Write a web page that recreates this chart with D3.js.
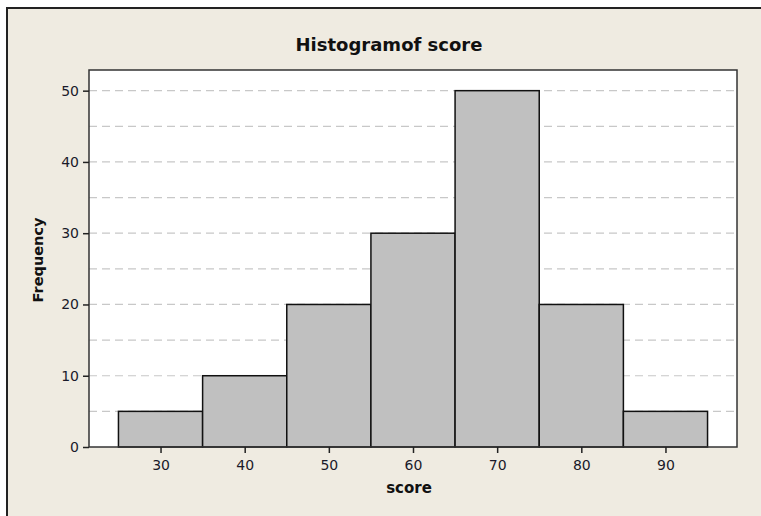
<!DOCTYPE html>
<html>
<head>
<meta charset="utf-8">
<script src="https://cdn.jsdelivr.net/npm/d3@7"></script>
<style>
  body { margin: 0; background: #fff; }
  svg { display: block; }
  .tick text { font-family: Tahoma, "DejaVu Sans", sans-serif; font-size: 14px; fill: #1a1a2a; }
</style>
</head>
<body>
<div id="chart"></div>
<script>
// histogram bins (score ranges) and counts
const binStarts = [25, 35, 45, 55, 65, 75, 85]
const binWidth = 10
const counts = [5, 10, 20, 30, 50, 20, 5]
const xTicks = [30, 40, 50, 60, 70, 80, 90]
const yTicks = [0, 10, 20, 30, 40, 50]
const gridValues = [5, 10, 15, 20, 25, 30, 35, 40, 45, 50]

const svgWidth = 761
const svgHeight = 516
const margin = { top: 70, right: 24, bottom: 69, left: 89 }
const width = 737 - margin.left
const height = 447 - margin.top

const svg = d3.select('#chart').append('svg')
    .attr('width', svgWidth)
    .attr('height', svgHeight)

// beige panel with dark top/left edge
svg.append('rect')
    .attr('x', 7).attr('y', 8)
    .attr('width', svgWidth - 7).attr('height', svgHeight - 8)
    .style('fill', '#efebe1')
svg.append('path')
    .attr('d', 'M7,' + svgHeight + 'V8H' + svgWidth)
    .style('fill', 'none')
    .style('stroke', '#222')
    .style('stroke-width', 2)

const g = svg.append('g')
    .attr('transform', 'translate(' + margin.left + ',' + margin.top + ')')

let xScale = d3.scaleLinear()
    .domain([21.5, 98.5])
    .range([0, width])

let yScale = d3.scaleLinear()
    .domain([0, 52.9])
    .range([height, 0])

g.append('rect')
    .attr('width', width).attr('height', height)
    .style('fill', '#fff')

// dashed gridlines
g.append('g').attr('class', 'grid')
    .selectAll('line')
    .data(gridValues)
    .enter()
    .append('line')
    .attr('x1', 0).attr('x2', width)
    .attr('y1', d => yScale(d)).attr('y2', d => yScale(d))
    .style('stroke', '#c8c8c8')
    .style('stroke-width', 1.2)
    .style('stroke-dasharray', '8,5')

// bars
g.append('g').attr('class', 'bars')
    .selectAll('rect')
    .data(binStarts)
    .enter()
    .append('rect')
    .attr('x', d => xScale(d))
    .attr('y', (d, i) => yScale(counts[i]))
    .attr('width', d => xScale(d + binWidth) - xScale(d))
    .attr('height', (d, i) => height - yScale(counts[i]))
    .style('fill', '#c0c0c0')
    .style('stroke', '#111')
    .style('stroke-width', 1.5)

// plot frame
g.append('rect')
    .attr('width', width).attr('height', height)
    .style('fill', 'none')
    .style('stroke', '#333')
    .style('stroke-width', 1.5)

let xAxis = g.append('g').attr('class', 'x-axis')
    .attr('transform', 'translate(0,' + height + ')')
    .call(d3.axisBottom(xScale).tickValues(xTicks).tickSize(6).tickPadding(7))
xAxis.select('.domain').remove()
xAxis.selectAll('line').style('stroke', '#222').style('stroke-width', 1.5)

let yAxis = g.append('g').attr('class', 'y-axis')
    .call(d3.axisLeft(yScale).tickValues(yTicks).tickSize(6).tickPadding(4))
yAxis.select('.domain').remove()
yAxis.selectAll('line').style('stroke', '#222').style('stroke-width', 1.5)

// titles
svg.append('text')
    .attr('x', 389).attr('y', 51)
    .attr('text-anchor', 'middle')
    .style('font-family', 'Tahoma, "DejaVu Sans", sans-serif')
    .style('font-weight', 'bold')
    .style('font-size', '18px')
    .style('fill', '#111')
    .text('Histogramof score')

svg.append('text')
    .attr('x', 409).attr('y', 493)
    .attr('text-anchor', 'middle')
    .style('font-family', 'Tahoma, "DejaVu Sans", sans-serif')
    .style('font-weight', 'bold')
    .style('font-size', '15px')
    .style('fill', '#111')
    .text('score')

svg.append('text')
    .attr('transform', 'translate(43,260) rotate(-90)')
    .attr('text-anchor', 'middle')
    .style('font-family', 'Tahoma, "DejaVu Sans", sans-serif')
    .style('font-weight', 'bold')
    .style('font-size', '14.5px')
    .style('fill', '#111')
    .text('Frequency')
</script>
</body>
</html>
